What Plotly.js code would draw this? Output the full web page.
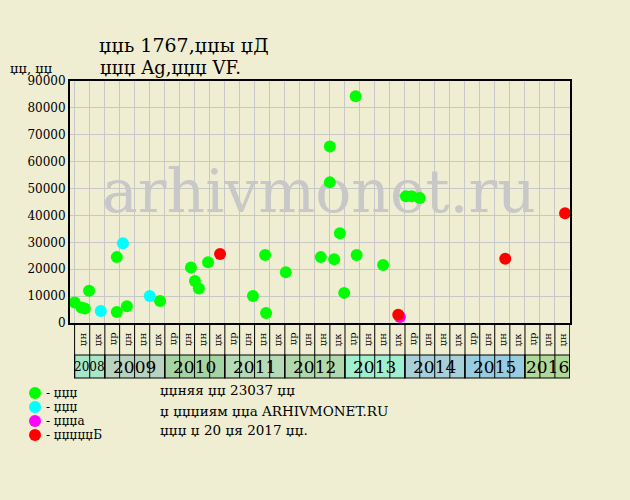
<!DOCTYPE html>
<html><head><meta charset="utf-8">
<script src="https://cdn.plot.ly/plotly-3.0.1.min.js"></script>
<style>html,body{margin:0;padding:0;background:#efeed2;}#chart{width:630px;height:500px;}</style>
</head><body><div id="chart"></div>
<script>
// ---- data ----
const greenDates = ['2008-07-01','2008-08-11','2008-09-01','2008-09-27','2009-03-15','2009-03-15','2009-05-15','2009-12-03',
  '2010-06-09','2010-07-03','2010-07-27','2010-09-21','2011-06-21','2011-09-03','2011-09-09','2012-01-07',
  '2012-08-07','2012-10-01','2012-10-01','2012-10-27','2012-12-01','2012-12-27','2013-03-07','2013-03-13',
  '2013-08-21','2014-01-07','2014-02-11','2014-04-01'];
const greenPrices = [7600,5800,5400,12000,4100,24500,6200,8200,
  20600,15600,12800,22600,10000,25300,3700,18900,
  24500,65600,52300,23700,33400,11200,84300,25300,
  21600,47100,47100,46500];
const cyanDates = ['2008-12-07','2009-04-21','2009-10-01'];
const cyanPrices = [4500,29700,10000];
const magentaDates = ['2013-12-01'];
const magentaPrices = [2200];
const redDates = ['2010-12-03','2013-11-21','2015-09-03','2016-09-01'];
const redPrices = [25700,3100,23900,40800];

const periods = ['2008-07-01','2008-10-01',
  '2009-01-01','2009-04-01','2009-07-01','2009-10-01',
  '2010-01-01','2010-04-01','2010-07-01','2010-10-01',
  '2011-01-01','2011-04-01','2011-07-01','2011-10-01',
  '2012-01-01','2012-04-01','2012-07-01','2012-10-01',
  '2013-01-01','2013-04-01','2013-07-01','2013-10-01',
  '2014-01-01','2014-04-01','2014-07-01','2014-10-01',
  '2015-01-01','2015-04-01','2015-07-01','2015-10-01',
  '2016-01-01','2016-04-01','2016-07-01'];
const periodLabels = ['џн','џк',
  'џр','џн','џн','џк','џр','џн','џн','џк','џр','џн','џн','џк','џр','џн','џн','џк',
  'џр','џн','џн','џк','џр','џн','џн','џк','џр','џн','џн','џк',
  'џр','џн','џн'];
const years = ['2008','2009','2010','2011','2012','2013','2014','2015','2016'];
const yearColors = ['#a8e6c8','#b8d4c0','#a4d4a4','#b4dab8','#b0d8ac','#a0f0d0','#a8d0d8','#98cce0','#b0d898'];

const legendColors = ['#00ff00','#00ffff','#ff00ff','#ff0000'];
const legendLabels = ['- џџџ','- џџџ','- џџџа','- џџџџџБ'];
const legendSlots = [3,2,1,0];
const infoLines = ['џџняя џџ 23037 џџ','џ џџџиям џџа ARHIVMONET.RU','џџџ џ 20 џя 2017 џџ.'];
const titleText = 'џџь 1767,џџы џД';
const subtitleText = 'џџџ Ag,џџџ VF.';
const yTitleText = 'џџ, џџ';
const watermark = 'arhivmonet.ru';

// ---- helpers ----
const FONT = 'DejaVu Serif, serif';
const BG = '#efeed2';
const xStart = '2008-06-03';
const xEnd = '2016-10-01';
const yMax = 90000;
function ms(d){ return new Date(d.replace(' ','T')+(d.length<=10?'T00:00:00Z':'Z')).getTime(); }
function ds(t){ return new Date(t).toISOString().slice(0,19).replace('T',' '); }
const periodEnds = periods.map((p,i)=> i<periods.length-1 ? periods[i+1] : xEnd);
const cellStart = periods.map(p => ms(p) < ms(xStart) ? xStart : p);

// paper fractions (paper = whole 630x500 page)
const W = 630, H = 500;
const px = v => v / W, py = v => 1 - v / H;
const plotBottom = py(323), yTop = py(355), yBot = py(378), yLab = py(339), yYear = py(366.5);

const shapes = [];
const annotations = [];
for (let i=0;i<periods.length;i++){
  shapes.push({type:'line', xref:'x', yref:'paper', x0:cellStart[i], x1:cellStart[i], y0:plotBottom, y1:yBot, line:{color:'#000', width:1}});
  annotations.push({xref:'x', yref:'paper', x: ds((ms(cellStart[i])+ms(periodEnds[i]))/2), y:yLab,
    text: periodLabels[i], textangle:-90, showarrow:false, font:{family:FONT,size:10,color:'#000'}, xanchor:'center', yanchor:'middle'});
}
shapes.push({type:'line', xref:'x', yref:'paper', x0:xEnd, x1:xEnd, y0:plotBottom, y1:yBot, line:{color:'#000', width:1.5}});
years.forEach((y,k)=>{
  const idx = periods.map((p,i)=>i).filter(i=>periods[i].slice(0,4)===y);
  const x0 = cellStart[idx[0]], x1 = periodEnds[idx[idx.length-1]];
  shapes.push({type:'rect', xref:'x', yref:'paper', x0:x0, x1:x1, y0:yBot, y1:yTop, fillcolor:yearColors[k], line:{color:'#000', width:1.2}, layer:'below'});
  annotations.push({xref:'x', yref:'paper', x: ds((ms(x0)+ms(x1))/2), y:yYear, text:y, showarrow:false,
    font:{family:FONT, size: idx.length<3 ? 12 : 17, color:'#000'}, xanchor:'center', yanchor:'middle'});
});
annotations.push({xref:'paper', yref:'paper', x:px(98), y:py(67), text:subtitleText, showarrow:false,
  font:{family:FONT, size:18, color:'#000'}, xanchor:'left', yanchor:'middle'});
annotations.push({xref:'paper', yref:'paper', x:px(8), y:py(68), text:yTitleText, showarrow:false,
  font:{family:FONT, size:13, color:'#000'}, xanchor:'left', yanchor:'middle'});
const legY = [393,407,421,435];
legendLabels.forEach((t,i)=>{
  annotations.push({xref:'paper', yref:'paper', x:px(44), y:py(legY[i]), text:t, showarrow:false,
    font:{family:FONT, size:12, color:'#000'}, xanchor:'left', yanchor:'middle'});
});
const infoY = [390,411,430];
infoLines.forEach((t,i)=>{
  annotations.push({xref:'paper', yref:'paper', x:px(158), y:py(infoY[i]), text:t, showarrow:false,
    font:{family:FONT, size:13.5, color:'#000'}, xanchor:'left', yanchor:'middle'});
});

function tr(x,y,c){ return {type:'scatter', mode:'markers', x:x, y:y, cliponaxis:false, showlegend:false,
  marker:{size:12, color:c, line:{width:0}}, hoverinfo:'skip'}; }
// watermark as a text trace drawn first, so it lies under the points
const wmTrace = {type:'scatter', mode:'text', x:[ds(ms(xStart)+(ms(xEnd)-ms(xStart))*0.498)], y:[yMax*0.521],
  text:[watermark], textposition:'middle center', textfont:{family:FONT, size:60, color:'#c8c8c8'},
  showlegend:false, hoverinfo:'skip', cliponaxis:false};
const data = [wmTrace, tr(greenDates,greenPrices,'#00ff00'), tr(cyanDates,cyanPrices,'#00ffff'),
  tr(magentaDates,magentaPrices,'#ff00ff'), tr(redDates,redPrices,'#ff0000'),
  {type:'scatter', mode:'markers', x:legendSlots.map(()=>0), y:legendSlots, xaxis:'x2', yaxis:'y2',
   cliponaxis:false, showlegend:false, hoverinfo:'skip', marker:{size:12, color:legendColors, line:{width:0}}}];

const layout = {
  width:W, height:H,
  paper_bgcolor:BG, plot_bgcolor:BG,
  margin:{l:0, r:0, t:0, b:0},
  title:{text:titleText, x:px(99), xref:'paper', xanchor:'left', yref:'container', y:py(45), yanchor:'middle',
    font:{family:FONT, size:19, color:'#000'}},
  xaxis:{type:'date', domain:[px(70), px(570)], anchor:'y', range:[xStart,xEnd], showticklabels:false, dtick:'M3', tick0:'2008-07-01',
    showgrid:true, gridcolor:'#c8c8c8', gridwidth:1, showline:true, linecolor:'#000', linewidth:2, mirror:true,
    zeroline:false, ticks:''},
  yaxis:{domain:[py(323), py(81)], anchor:'x', range:[0,yMax], dtick:10000, tickformat:'d', showgrid:true, gridcolor:'#c8c8c8', gridwidth:1,
    showline:true, linecolor:'#000', linewidth:2, mirror:true, zeroline:false, ticks:'',
    tickfont:{family:FONT, size:12, color:'#000'}},
  xaxis2:{domain:[px(25), px(45)], anchor:'y2', range:[-1,1], visible:false, fixedrange:true},
  yaxis2:{domain:[py(442), py(386)], anchor:'x2', range:[-0.5,3.5], visible:false, fixedrange:true},
  shapes:shapes, annotations:annotations, showlegend:false
};
Plotly.newPlot('chart', data, layout, {staticPlot:true, displayModeBar:false});
</script></body></html>
